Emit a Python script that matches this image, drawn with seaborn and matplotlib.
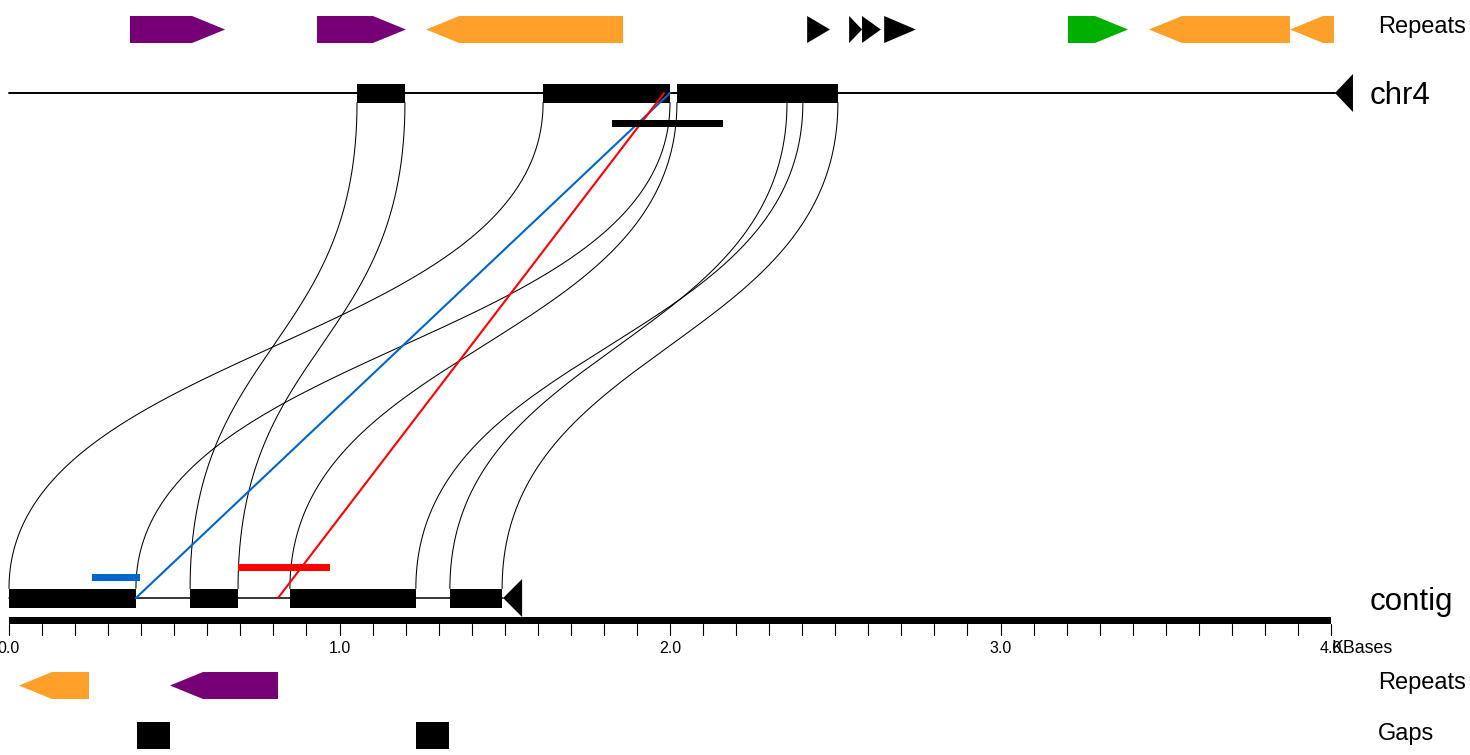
import numpy as np
import matplotlib
matplotlib.use("Agg")
import matplotlib.pyplot as plt
from matplotlib.patches import Polygon, Rectangle
import seaborn as sns

# ---- data (positions in kb) ----
chr4_length = 4.012
contig_length = 1.495

# repeats above chr4
top_rep_start = [0.366, 0.932, 1.262, 2.415, 2.542, 2.581, 2.648, 3.204, 3.449, 3.876]
top_rep_end = [0.654, 1.201, 1.858, 2.484, 2.581, 2.638, 2.744, 3.386, 3.876, 4.009]
top_rep_strand = ["+", "+", "-", "+", "+", "+", "+", "+", "-", "-"]
top_rep_class = ["purple", "purple", "orange", "black", "black", "black", "black",
                 "green", "orange", "orange"]

# repeats below the contig
bot_rep_start = [0.030, 0.487]
bot_rep_end = [0.242, 0.814]
bot_rep_strand = ["-", "-"]
bot_rep_class = ["orange", "purple"]

# gaps in the contig
gap_start = [0.387, 1.231]
gap_end = [0.487, 1.331]

# aligned blocks, paired by index
chr4_block_start = [1.616, 1.053, 2.021, 2.354]
chr4_block_end = [2.000, 1.198, 2.402, 2.508]
contig_block_start = [0.000, 0.548, 0.850, 1.334]
contig_block_end = [0.384, 0.693, 1.231, 1.492]

# straight links (contig pos -> chr4 pos) and their marker bars
link_contig = [0.384, 0.814]
link_chr4 = [2.000, 1.982]
link_color = ["#0066cc", "#ff0000"]
mark_start = [0.251, 0.693]
mark_end = [0.396, 0.971]
mark_row = [577.5, 567.5]
chr4_mark = (1.825, 2.160)

ticks_minor = np.round(np.arange(0, 4.01, 0.1), 1)
ticks_major = [0.0, 1.0, 2.0, 3.0, 4.0]

colors = {"purple": "#770077", "orange": "#ffa02a", "green": "#00b000", "black": "#000000"}

# ---- layout (pixel rows) ----
PX = 330.5          # pixels per kb
X0 = 9              # pixel column of 0 kb
Y_TOPREP, Y_CHR4, Y_CONTIG, Y_AXIS = 29.5, 93, 598, 620.5
Y_BOTREP, Y_GAPS = 685.5, 735.5
REP_H, BLOCK_H = 27, 19


def kb(px):
    return (px - X0) / PX


def arrow(ax, start, end, strand, y, h, color):
    head = min(end - start, 0.1)
    if strand == "+":
        pts = [(start, y - h / 2), (end - head, y - h / 2), (end, y),
               (end - head, y + h / 2), (start, y + h / 2)]
    else:
        pts = [(start, y), (start + head, y - h / 2), (end, y - h / 2),
               (end, y + h / 2), (start + head, y + h / 2)]
    ax.add_patch(Polygon(pts, closed=True, facecolor=color, edgecolor="none"))


def bezier(x0, y0, x1, y1, n=200):
    t = np.linspace(0, 1, n)
    ym = (y0 + y1) / 2
    x = (1 - t) ** 3 * x0 + 3 * (1 - t) ** 2 * t * x0 + 3 * (1 - t) * t ** 2 * x1 + t ** 3 * x1
    y = (1 - t) ** 3 * y0 + 3 * (1 - t) ** 2 * t * ym + 3 * (1 - t) * t ** 2 * ym + t ** 3 * y1
    return x, y


sns.set_theme(style="white")
plt.rcParams["font.family"] = ["Liberation Sans", "DejaVu Sans"]
plt.rcParams["text.color"] = "black"

fig = plt.figure(figsize=(14.7, 7.55), dpi=100)
ax = fig.add_axes([0, 0, 1, 1])
ax.set_xlim(kb(0), kb(1470))
ax.set_ylim(755, 0)
ax.axis("off")

# repeats
for s, e, st, c in zip(top_rep_start, top_rep_end, top_rep_strand, top_rep_class):
    arrow(ax, s, e, st, Y_TOPREP, REP_H, colors[c])
for s, e, st, c in zip(bot_rep_start, bot_rep_end, bot_rep_strand, bot_rep_class):
    arrow(ax, s, e, st, Y_BOTREP, REP_H, colors[c])

# gaps
for s, e in zip(gap_start, gap_end):
    ax.add_patch(Rectangle((s, Y_GAPS - 13.5), e - s, 27, facecolor="black", edgecolor="none"))

# sequence lines with orientation markers
ax.plot([0, chr4_length], [Y_CHR4, Y_CHR4], color="black", lw=1.4, zorder=2)
ax.add_patch(Polygon([(chr4_length, Y_CHR4), (chr4_length + kb(X0 + 18), Y_CHR4 - 19),
                      (chr4_length + kb(X0 + 18), Y_CHR4 + 19)], facecolor="black", edgecolor="none"))
ax.plot([0, contig_length], [Y_CONTIG, Y_CONTIG], color="black", lw=1.1, zorder=2)
ax.add_patch(Polygon([(contig_length, Y_CONTIG), (contig_length + kb(X0 + 19), Y_CONTIG - 19),
                      (contig_length + kb(X0 + 19), Y_CONTIG + 19)], facecolor="black", edgecolor="none"))

# aligned blocks and their ribbons
for cs, ce, gs, ge in zip(chr4_block_start, chr4_block_end, contig_block_start, contig_block_end):
    ax.add_patch(Rectangle((cs, Y_CHR4 - 9.5), ce - cs, BLOCK_H, facecolor="black",
                           edgecolor="none", zorder=3))
    ax.add_patch(Rectangle((gs, Y_CONTIG - 9.5), ge - gs, BLOCK_H, facecolor="black",
                           edgecolor="none", zorder=3))
    for a, b in [(cs, gs), (ce, ge)]:
        bx, by = bezier(a, Y_CHR4 + 9.5, b, Y_CONTIG - 9.5)
        ax.plot(bx, by, color="black", lw=0.75, zorder=2)

# straight links and marker bars
for c0, c1, col, ms, me, mr in zip(link_contig, link_chr4, link_color, mark_start, mark_end, mark_row):
    ax.plot([c0, c1], [Y_CONTIG, Y_CHR4], color=col, lw=1.5, zorder=4)
    ax.add_patch(Rectangle((ms, mr - 3.5), me - ms, 7, facecolor=col, edgecolor="none", zorder=4))
ax.add_patch(Rectangle((chr4_mark[0], 120), chr4_mark[1] - chr4_mark[0], 7,
                       facecolor="black", edgecolor="none", zorder=4))

# scale axis
ax.add_patch(Rectangle((0, Y_AXIS - 3.5), 4.0, 7, facecolor="black", edgecolor="none"))
for t in ticks_minor:
    ax.plot([t, t], [Y_AXIS + 3.5, Y_AXIS + 14.5], color="black", lw=0.8)
for t in ticks_major:
    ax.text(t, 653, f"{t:.1f}", ha="center", va="baseline", fontsize=11.5)
ax.text(4.003, 653, "KBases", ha="left", va="baseline", fontsize=12.8)

# track labels
lx = kb(1378)
ax.text(lx, 33, "Repeats", ha="left", va="baseline", fontsize=17)
ax.text(kb(1370), 104, "chr4", ha="left", va="baseline", fontsize=22.5)
ax.text(kb(1370), 610, "contig", ha="left", va="baseline", fontsize=22.5)
ax.text(lx, 689, "Repeats", ha="left", va="baseline", fontsize=17)
ax.text(lx, 740, "Gaps", ha="left", va="baseline", fontsize=17)

fig.savefig("out.png", dpi=100)
